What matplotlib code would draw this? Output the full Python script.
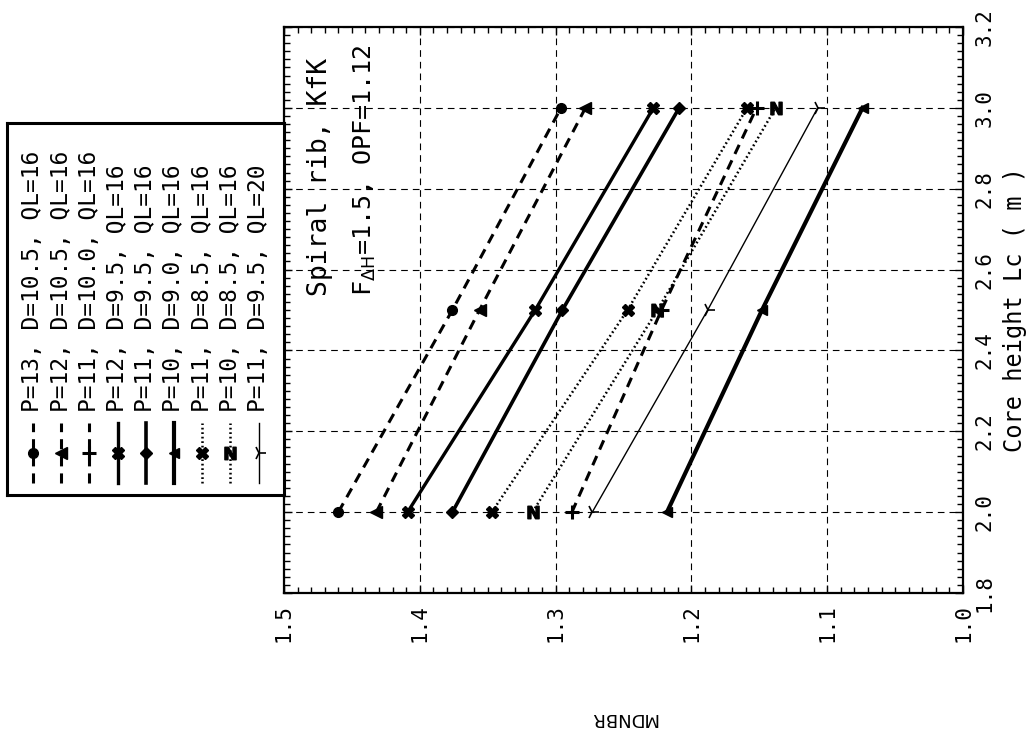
import numpy as np
import matplotlib
matplotlib.use("Agg")
import matplotlib.pyplot as plt
from matplotlib.ticker import MultipleLocator, FormatStrFormatter
from matplotlib.lines import Line2D

plt.rcParams['font.family'] = ['DejaVu Sans Mono', 'DejaVu Sans']
plt.rcParams['mathtext.fontset'] = 'dejavusans'

# Core height (m) and MDNBR for each rod-bundle configuration
core_height = [2.0, 2.5, 3.0]

labels = [
    "P=13, D=10.5, QL=16",
    "P=12, D=10.5, QL=16",
    "P=11, D=10.0, QL=16",
    "P=12, D=9.5, QL=16",
    "P=11, D=9.5, QL=16",
    "P=10, D=9.0, QL=16",
    "P=11, D=8.5, QL=16",
    "P=10, D=8.5, QL=16",
    "P=11, D=9.5, QL=20",
]

mdnbr_p13_d105 = [1.460, 1.376, 1.296]
mdnbr_p12_d105 = [1.432, 1.356, 1.278]
mdnbr_p11_d100 = [1.288, 1.222, 1.152]
mdnbr_p12_d95 = [1.409, 1.315, 1.228]
mdnbr_p11_d95 = [1.376, 1.295, 1.209]
mdnbr_p10_d90 = [1.218, 1.148, 1.074]
mdnbr_p11_d85 = [1.347, 1.247, 1.159]
mdnbr_p10_d85 = [1.317, 1.225, 1.138]
mdnbr_p11_d95_ql20 = [1.273, 1.188, 1.107]

series = [mdnbr_p13_d105, mdnbr_p12_d105, mdnbr_p11_d100, mdnbr_p12_d95,
          mdnbr_p11_d95, mdnbr_p10_d90, mdnbr_p11_d85, mdnbr_p10_d85,
          mdnbr_p11_d95_ql20]

mdnbr_ticks = [1.5, 1.4, 1.3, 1.2, 1.1, 1.0]
height_ticks = [1.8, 2.0, 2.2, 2.4, 2.6, 2.8, 3.0, 3.2]

dash = (0, (3.3, 2.3))
dot = (0, (0.7, 1.1))
styles = [
    dict(ls=dash, lw=2.2, marker='o', ms=7),
    dict(ls=dash, lw=2.2, marker='<', ms=8),
    dict(ls=dash, lw=2.2, marker='+', ms=10, mew=2.2),
    dict(ls='-', lw=2.4, marker='X', ms=8),
    dict(ls='-', lw=2.6, marker='D', ms=6),
    dict(ls='-', lw=3.0, marker='<', ms=7),
    dict(ls=dot, lw=1.8, marker='X', ms=8),
    dict(ls=dot, lw=1.8, marker=r'$\mathbf{N}$', ms=9),
    dict(ls='-', lw=1.0, marker='4', ms=10, mew=1.2),
]

W, H = 1035, 739
fig = plt.figure(figsize=(W / 100, H / 100), dpi=100)

# Page is laid out sideways: MDNBR runs right-to-left, core height bottom-to-top
ax = fig.add_axes([284 / W, 1 - 593 / H, 679 / W, 566 / H])
ax.set_xlim(1.5, 1.0)
ax.set_ylim(1.8, 3.2)

for vals, st in zip(series, styles):
    ax.plot(vals, core_height, color='black', zorder=3, **st)

ax.grid(True, which='major', ls=(0, (6, 4.5)), lw=0.8, color='black', zorder=1)

ax.set_xticks(mdnbr_ticks)
ax.xaxis.set_major_formatter(FormatStrFormatter('%.1f'))
ax.xaxis.set_minor_locator(MultipleLocator(0.01))
ax.set_yticks(height_ticks)
ax.yaxis.set_major_formatter(FormatStrFormatter('%.1f'))
ax.yaxis.set_minor_locator(MultipleLocator(0.02))

ax.tick_params(axis='both', which='both', direction='in', top=True, bottom=True,
               left=True, right=True, labelleft=False, labelright=True,
               labelbottom=True, width=1.0)
ax.tick_params(axis='both', which='major', length=6, labelsize=15, pad=8)
ax.tick_params(axis='both', which='minor', length=4)
for t in ax.get_xticklabels():
    t.set_rotation(90)
for t in ax.get_yticklabels():
    t.set_rotation(90)
    t.set_verticalalignment('center')

for s in ax.spines.values():
    s.set_linewidth(1.6)

ax.set_xlabel('MDNBR', family='DejaVu Sans', fontsize=13, rotation=180)
ax.xaxis.set_label_coords(0.5, (593 - 718) / 566)
ax.xaxis.label.set_verticalalignment('center')

ax.yaxis.set_label_position('right')
ax.set_ylabel('Core height Lc ( m )', fontsize=17, rotation=90)
ax.yaxis.set_label_coords((1015 - 284) / 679, 0.5)
ax.yaxis.label.set_verticalalignment('center')
ax.yaxis.label.set_horizontalalignment('center')

ax.text(0.053, 0.525, 'Spiral rib, KfK', transform=ax.transAxes,
        rotation=90, ha='center', va='bottom', fontsize=19)
ax.text(0.119, 0.525, r'F$_{\mathrm{\Delta H}}$=1.5, OPF=1.12', transform=ax.transAxes,
        rotation=90, ha='center', va='bottom', fontsize=18)

# Legend box, entries stacked as columns of sideways text
lax = fig.add_axes([7 / W, 1 - 495 / H, 277 / W, 372 / H])
lax.set_xlim(0, 277)
lax.set_ylim(0, 372)
lax.set_xticks([])
lax.set_yticks([])
for s in lax.spines.values():
    s.set_linewidth(2.2)
for i, (lab, st) in enumerate(zip(labels, styles)):
    cx = 26 + i * 28.2
    line_kw = {k: v for k, v in st.items() if k not in ('marker', 'ms', 'mew')}
    lax.add_line(Line2D([cx, cx], [12, 72], color='black', **line_kw))
    lax.plot([cx], [42], color='black', marker=st['marker'], ms=st['ms'],
             mew=st.get('mew', 1.0), ls='none')
    lax.text(cx, 83, lab, rotation=90, ha='center', va='bottom', fontsize=16.5)

fig.savefig('out.png', dpi=100)
